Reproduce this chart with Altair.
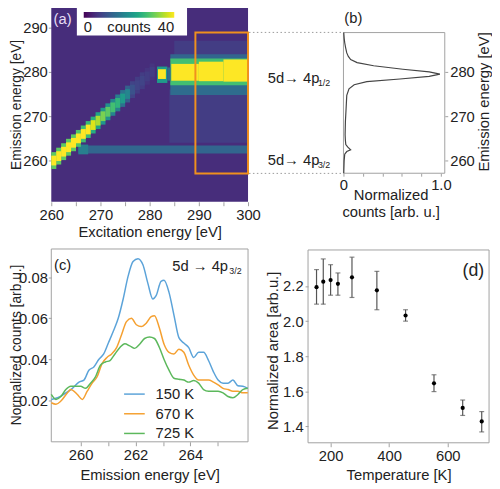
import altair as alt
import pandas as pd

W, H = 492, 481
FONT = "Liberation Sans"
TXT = "#222222"
GRAY = "#a0a0a0"

# ---------------- (a) map: excitation vs emission energy ----------------
heat_exc0 = [260.0, 284.0, 285.0, 265.5, 265.5, 284.2, 284.2, 284.2, 284.4, 290.0, 295.0, 281.5, 281.7, 283.6]
heat_exc1 = [300.0, 300.0, 300.0, 300.0, 267.5, 300.0, 300.0, 300.0, 290.0, 295.0, 300.0, 283.6, 283.3, 284.2]
heat_em0 = [250.7, 264.0, 283.5, 261.6, 261.4, 274.8, 282.6, 277.0, 278.0, 277.9, 277.8, 277.5, 278.4, 278.0]
heat_em1 = [295.4, 276.0, 287.0, 263.4, 263.6, 277.6, 284.0, 283.0, 281.8, 282.3, 282.8, 281.2, 280.6, 281.0]
heat_counts = [5, 7, 7, 13, 17, 14, 13, 28, 45, 45, 45, 22, 42, 14]

diag_exc = [260, 261, 262, 263, 264, 265, 266, 267, 268, 269, 270, 271, 272, 273, 274, 275, 276, 277, 278, 279, 280]
# outer fringe of the elastic line
diag_f_em0 = [258.1, 259.1, 260.1, 261.1, 262.1, 263.1, 264.1, 265.1, 266.1, 267.1, 268.1, 269.1, 270.1, 271.1, 272.1, 273.1, 274.1, 275.1, 276.1, 277.1, 278.1]
diag_f_em1 = [261.9, 262.9, 263.9, 264.9, 265.9, 266.9, 267.9, 268.9, 269.9, 270.9, 271.9, 272.9, 273.9, 274.9, 275.9, 276.9, 277.9, 278.9, 279.9, 280.9, 281.9]
diag_f_counts = [30, 30, 30, 30, 30, 29, 28, 27, 25, 23, 21, 20, 18, 17, 15, 12, 8, 7, 7, 6, 6]
# core of the elastic line
diag_em0 = [258.9, 259.9, 260.9, 261.9, 262.9, 263.9, 264.9, 265.9, 266.9, 267.9, 268.9, 269.9, 270.9, 271.9, 272.9, 273.9, 274.9, 275.9, 276.9, 277.9, 278.9]
diag_em1 = [261.1, 262.1, 263.1, 264.1, 265.1, 266.1, 267.1, 268.1, 269.1, 270.1, 271.1, 272.1, 273.1, 274.1, 275.1, 276.1, 277.1, 278.1, 279.1, 280.1, 281.1]
diag_counts = [45, 45, 45, 45, 45, 44, 42, 42, 38, 35, 32, 30, 28, 26, 22, 18, 10, 8, 8, 7, 7]

box_exc = [289.3, 300.0]
box_em = [257.1, 288.9]

# ---------------- (b) integrated spectrum ----------------
b_em = [288.9, 287.5, 286.6, 285.5, 284.3, 283.5, 282.8, 282.1, 281.4, 280.6, 280.0, 279.5, 279.0, 278.4,
        277.8, 277.1, 276.2, 274.7, 273.0, 271.7, 268.8, 265.8, 264.5, 263.6, 263.0, 262.4, 262.0, 261.4,
        259.9, 257.1]
b_counts = [0.003, 0.008, 0.013, 0.022, 0.034, 0.05, 0.074, 0.14, 0.31, 0.61, 0.88, 0.99, 0.88, 0.58,
            0.24, 0.11, 0.057, 0.034, 0.03, 0.027, 0.02, 0.017, 0.02, 0.024, 0.045, 0.074, 0.034, 0.013,
            0.007, 0.003]

# ---------------- (c) 5d -> 4p3/2 spectra ----------------
c150_e = [258.93, 259.16, 259.46, 259.70, 259.94, 260.12, 260.30, 260.48, 260.66, 260.84, 261.01, 261.19,
          261.37, 261.55, 261.73, 261.91, 262.09, 262.27, 262.45, 262.63, 262.75, 262.93, 263.04, 263.22,
          263.40, 263.58, 263.76, 263.94, 264.12, 264.30, 264.48, 264.66, 264.84, 265.01, 265.19, 265.37,
          265.55, 265.73, 265.91, 266.09]
c150_v = [0.0206, 0.0214, 0.0238, 0.026, 0.029, 0.030, 0.0348, 0.0364, 0.040, 0.0427, 0.048, 0.0537,
          0.060, 0.0694, 0.0805, 0.0876, 0.089, 0.086, 0.077, 0.0694, 0.071, 0.078, 0.0785, 0.0726,
          0.0616, 0.0506, 0.048, 0.0458, 0.041, 0.0435, 0.0435, 0.0395, 0.034, 0.030, 0.0285, 0.0285,
          0.030, 0.0272, 0.027, 0.026]
c670_e = [258.93, 259.10, 259.28, 259.52, 259.64, 259.88, 260.06, 260.24, 260.42, 260.60, 260.78, 260.96,
          261.13, 261.31, 261.49, 261.67, 261.85, 262.03, 262.21, 262.39, 262.57, 262.69, 262.87, 263.04,
          263.22, 263.40, 263.58, 263.76, 263.94, 264.12, 264.30, 264.48, 264.66, 264.84, 265.01, 265.19,
          265.37, 265.55, 265.73, 265.91, 266.09]
c670_v = [0.019, 0.0183, 0.0198, 0.0238, 0.0254, 0.023, 0.0206, 0.0246, 0.0285, 0.0316, 0.038, 0.041,
          0.0427, 0.0458, 0.052, 0.0584, 0.060, 0.0569, 0.056, 0.0576, 0.0608, 0.0613, 0.0553, 0.0474,
          0.0435, 0.0427, 0.045, 0.0435, 0.0372, 0.0324, 0.030, 0.030, 0.030, 0.029, 0.0277, 0.026,
          0.0254, 0.0246, 0.0246, 0.0238, 0.0238]
c725_e = [258.93, 259.10, 259.28, 259.46, 259.64, 259.82, 260.00, 260.18, 260.36, 260.54, 260.72, 260.90,
          261.07, 261.25, 261.43, 261.61, 261.79, 261.97, 262.15, 262.33, 262.51, 262.69, 262.87, 263.04,
          263.22, 263.40, 263.58, 263.76, 263.94, 264.12, 264.30, 264.48, 264.66, 264.84, 265.01, 265.19,
          265.37, 265.55, 265.73, 265.91, 266.09]
c725_v = [0.023, 0.0206, 0.022, 0.0254, 0.027, 0.027, 0.027, 0.026, 0.0285, 0.0316, 0.0372, 0.0388,
          0.0395, 0.0427, 0.0458, 0.0477, 0.0466, 0.0454, 0.0474, 0.0502, 0.0509, 0.0502, 0.0458, 0.040,
          0.0348, 0.0309, 0.0304, 0.030, 0.029, 0.0298, 0.0285, 0.0254, 0.0246, 0.0246, 0.0246, 0.0238,
          0.022, 0.0214, 0.023, 0.0254, 0.026]
series_names = ["150 K", "670 K", "725 K"]
series_colors = ["#5ba3d9", "#f5a030", "#5cb85c"]

# ---------------- (d) normalized area vs temperature ----------------
d_temp = [152, 175, 200, 225, 273, 358, 456, 553, 651, 716]
d_area = [2.194, 2.225, 2.234, 2.213, 2.25, 2.176, 2.032, 1.645, 1.505, 1.428]
d_lo = [2.097, 2.097, 2.148, 2.148, 2.135, 2.065, 2.0, 1.598, 1.462, 1.368]
d_hi = [2.294, 2.355, 2.322, 2.275, 2.365, 2.284, 2.065, 1.694, 1.55, 1.484]


def axis(orient, offset, values, title, tx, ty, baseline="top", angle=None, expr=None, fmt=None,
         tick=4, tsize=15, lpad=2):
    kw = dict(orient=orient, offset=offset, values=values, title=title, titleX=tx, titleY=ty,
              titleBaseline=baseline, titleAlign="center", grid=False, domain=False, labelFlush=False,
              labelFont=FONT, labelFontSize=15, labelColor=TXT, labelPadding=lpad,
              titleFont=FONT, titleFontSize=tsize, titleColor=TXT, titleFontWeight="normal",
              tickColor=GRAY, tickSize=tick, tickWidth=1, titleLineHeight=17)
    if angle is not None:
        kw["titleAngle"] = angle
    if expr is not None:
        kw["labelExpr"] = expr
    if fmt is not None:
        kw["format"] = fmt
    return alt.Axis(**kw)


one = pd.DataFrame({"t": ["x"]})


def text(s, x, y, size=15, color=TXT, align="center", baseline="middle"):
    return alt.Chart(pd.DataFrame({"t": [s]})).mark_text(
        x=x, y=y, fontSize=size, font=FONT, color=color, align=align, baseline=baseline
    ).encode(text="t:N")


def frame(x0, x1, y0, y1, fill=None, stroke=GRAY):
    kw = dict(stroke=stroke, strokeWidth=1) if stroke else dict(strokeWidth=0)
    if fill:
        kw["fill"] = fill
    else:
        kw["fillOpacity"] = 0
    return alt.Chart(one).mark_rect(**kw).encode(
        x=alt.value(x0), x2=alt.value(x1), y=alt.value(y0), y2=alt.value(y1))


# ---------- panel (a) ----------
heat = pd.DataFrame({
    "x0": heat_exc0 + diag_exc + diag_exc,
    "x1": heat_exc1 + [e + 1.02 for e in diag_exc] + [e + 1.02 for e in diag_exc],
    "y0": heat_em0 + diag_f_em0 + diag_em0,
    "y1": heat_em1 + diag_f_em1 + diag_em1,
    "c": heat_counts + diag_f_counts + diag_counts,
})
sx_a = alt.Scale(domain=[260, 300], range=[44, 244], nice=False, zero=False)
sy_a = alt.Scale(domain=[250.7, 295.3], range=[193, -8], nice=False, zero=False)
ax_xa = axis("bottom", 193 - H, [260, 265, 270, 275, 280, 285, 290, 295, 300],
             "Excitation energy [eV]", 144, 23, expr="datum.value % 10 == 0 ? datum.label : ''")
ax_ya = axis("left", -44, [260, 270, 280, 290], "Emission energy [eV]", -42, 94, angle=270,
             tick=3, tsize=14, lpad=1)

heat_layer = alt.Chart(heat).mark_rect(strokeWidth=0).encode(
    x=alt.X("x0:Q", scale=sx_a, axis=ax_xa),
    x2="x1:Q",
    y=alt.Y("y0:Q", scale=sy_a, axis=ax_ya),
    y2="y1:Q",
    color=alt.Color("c:Q", scale=alt.Scale(scheme="viridis", domain=[0, 40], clamp=True),
                    legend=alt.Legend(orient="none", legendX=77, legendY=0, direction="horizontal",
                                      gradientLength=92, gradientThickness=6, title=None,
                                      values=[0, 40], labelFontSize=15, labelFont=FONT,
                                      labelColor=TXT, labelAlign="center", labelOffset=2,
                                      padding=0, gradientStrokeWidth=0)),
)

box_df = pd.DataFrame({"x0": [box_exc[0]], "x1": [box_exc[1]], "y0": [box_em[0]], "y1": [box_em[1]]})
box_layer = alt.Chart(box_df).mark_rect(fillOpacity=0, stroke="#f0901e", strokeWidth=2).encode(
    x=alt.X("x0:Q", scale=sx_a, axis=ax_xa), x2="x1:Q",
    y=alt.Y("y0:Q", scale=sy_a, axis=ax_ya), y2="y1:Q",
)
conn_layer = alt.Chart(pd.DataFrame({"y0": box_em})).mark_rule(
    color="#999999", strokeDash=[1.5, 2.5], strokeWidth=1).encode(
    y=alt.Y("y0:Q", scale=sy_a, axis=ax_ya), x=alt.value(245), x2=alt.value(341))

panel_a = alt.layer(heat_layer, box_layer, conn_layer)

# ---------- panel (b) ----------
bdf = pd.DataFrame({"em": b_em, "n": b_counts})
panel_b = alt.Chart(bdf).mark_line(color="#444444", strokeWidth=1.2).encode(
    x=alt.X("n:Q", scale=alt.Scale(domain=[0, 1.04], range=[341, 444], nice=False, zero=False),
            axis=axis("bottom", 164 - H, [0, 0.2, 0.4, 0.6, 0.8, 1.0], ["Normalized", "counts [arb. u.]"],
                      389, 15, expr="datum.value == 0 ? '0' : (datum.value == 1 ? '1.0' : '')", tick=3)),
    y=alt.Y("em:Q", scale=alt.Scale(domain=[257.1, 288.9], range=[164, 21], nice=False, zero=False),
            axis=axis("right", 444 - W, [260, 270, 280], "Emission energy [eV]", 32, 91, angle=270,
                      tick=3)),
    order=alt.Order("em:Q"),
)

# ---------- panel (c) ----------
cdf = pd.concat([
    pd.DataFrame({"e": c150_e, "v": c150_v, "s": series_names[0]}),
    pd.DataFrame({"e": c670_e, "v": c670_v, "s": series_names[1]}),
    pd.DataFrame({"e": c725_e, "v": c725_v, "s": series_names[2]}),
], ignore_index=True)
panel_c = alt.Chart(cdf).mark_line(strokeWidth=1.5, interpolate="monotone").encode(
    x=alt.X("e:Q", scale=alt.Scale(domain=[258.93, 266.1], range=[44, 244], nice=False, zero=False),
            axis=axis("bottom", 437 - H, [260, 261, 262, 263, 264, 265], "Emission energy  [eV]", 144, 26,
                      expr="datum.value % 2 == 0 ? datum.label : ''")),
    y=alt.Y("v:Q", scale=alt.Scale(domain=[0, 0.0937], range=[437, 241], nice=False, zero=False),
            axis=axis("left", -44, [0.02, 0.04, 0.06, 0.08], "Normalized counts [arb.u.]", -42, 338,
                      angle=270, fmt=".2f", tick=3, tsize=14, lpad=1)),
    color=alt.Color("s:N", scale=alt.Scale(domain=series_names, range=series_colors),
                    legend=alt.Legend(orient="none", legendX=117, legendY=377, title=None,
                                      direction="vertical", symbolType="stroke", symbolSize=441,
                                      symbolStrokeWidth=1.5, labelFontSize=15, labelFont=FONT,
                                      labelColor=TXT, labelOffset=10, rowPadding=-3, padding=0)),
    detail="s:N",
)

# ---------- panel (d) ----------
ddf = pd.DataFrame({"T": d_temp, "A": d_area, "lo": d_lo, "hi": d_hi})
sx_d = alt.Scale(domain=[123, 741], range=[305, 489], nice=False, zero=False)
sy_d = alt.Scale(domain=[1.306, 2.406], range=[438, 242], nice=False, zero=False)
ax_xd = axis("bottom", 438 - H, [200, 400, 600], "Temperature  [K]", 397, 25)
ax_yd = axis("left", -305, [1.4, 1.6, 1.8, 2.0, 2.2], "Normalized area [arb.u.]", -43, 344,
             angle=270, fmt=".1f", tick=3)
d_err = alt.Chart(ddf).mark_rule(color="#555555", strokeWidth=1.2).encode(
    x=alt.X("T:Q", scale=sx_d, axis=ax_xd), y=alt.Y("lo:Q", scale=sy_d, axis=ax_yd), y2="hi:Q")
d_cap_lo = alt.Chart(ddf).mark_tick(orient="horizontal", size=5, thickness=1.2, color="#555555").encode(
    x=alt.X("T:Q", scale=sx_d, axis=ax_xd), y=alt.Y("lo:Q", scale=sy_d, axis=ax_yd))
d_cap_hi = alt.Chart(ddf).mark_tick(orient="horizontal", size=5, thickness=1.2, color="#555555").encode(
    x=alt.X("T:Q", scale=sx_d, axis=ax_xd), y=alt.Y("hi:Q", scale=sy_d, axis=ax_yd))
d_pts = alt.Chart(ddf).mark_point(filled=True, size=18, color="black", opacity=1).encode(
    x=alt.X("T:Q", scale=sx_d, axis=ax_xd),
    y=alt.Y("A:Q", scale=sy_d, axis=ax_yd),
)
panel_d = alt.layer(d_err, d_cap_lo, d_cap_hi, d_pts)

# ---------- assemble ----------
chart = alt.layer(
    panel_a,
    frame(70, 182, -8, 24, fill="white", stroke=None),
    text("counts", 123, 8, baseline="top"),
    text("(a)", 55.5, 7, color="#e6dcf4"),
    frame(341, 444, 21, 164),
    panel_b,
    text("(b)", 351, 6),
    text("5d\u2192 4p", 264, 67, align="left"),
    text("1/2", 315, 72, size=9, align="left"),
    text("5d\u2192 4p", 264, 151, align="left"),
    text("3/2", 315, 156, size=9, align="left"),
    frame(44, 244, 241, 437),
    panel_c,
    text("(c)", 55.5, 257),
    text("5d \u2192 4p", 167, 258, align="left"),
    text("3/2", 225, 263, size=9, align="left"),
    frame(305, 489, 242, 438),
    panel_d,
    text("(d)", 473, 263, size=18),
).resolve_scale(
    x="independent", y="independent", color="independent"
).properties(
    width=W, height=H, padding=0, autosize=alt.AutoSizeParams(type="none")
).configure_view(strokeWidth=0)

chart.save("out.html", embed_options={"renderer": "svg", "actions": False})
